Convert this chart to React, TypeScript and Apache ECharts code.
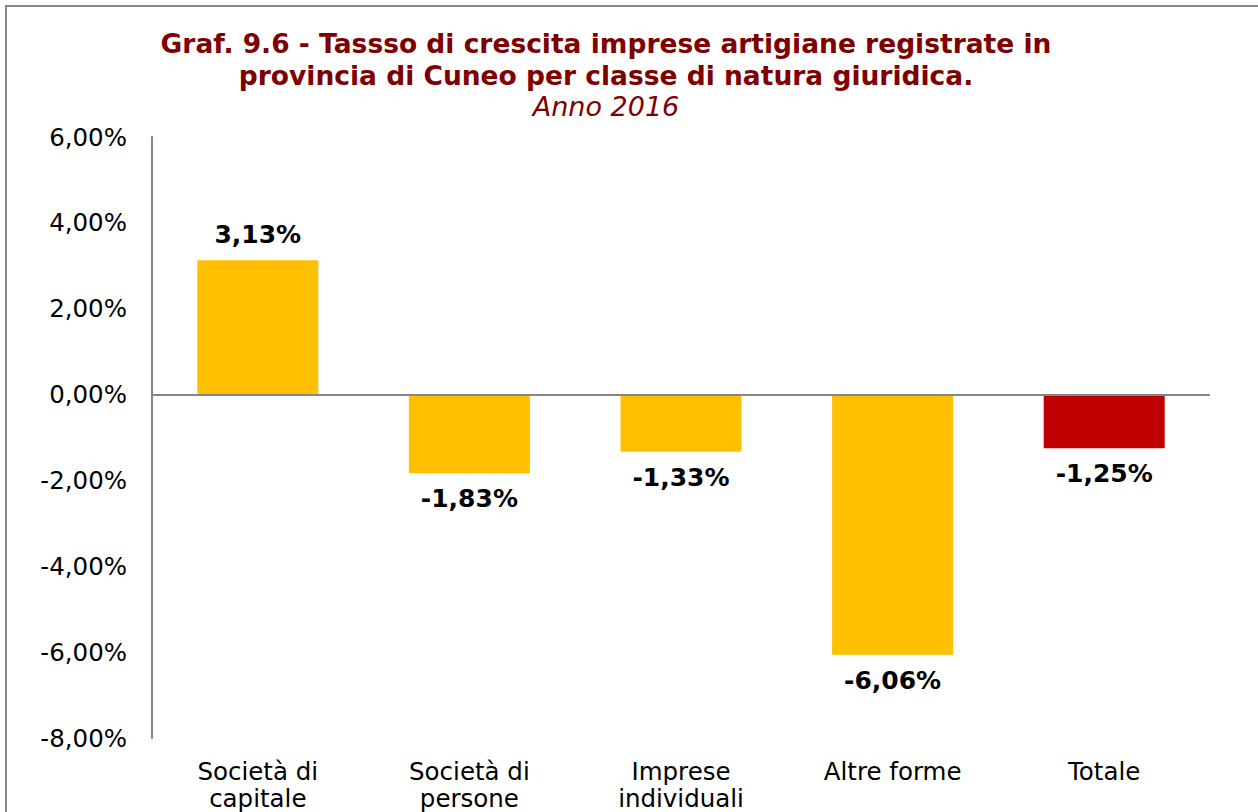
import React, { useEffect, useRef } from "react";
import * as echarts from "echarts";

const categories = ["Società di\ncapitale", "Società di\npersone", "Imprese\nindividuali", "Altre forme", "Totale"];
const values = [3.13, -1.83, -1.33, -6.06, -1.25];
const barColors = ["#FFC000", "#FFC000", "#FFC000", "#FFC000", "#C00000"];
const titleLines = [
  "Graf. 9.6 - Tassso di crescita imprese artigiane registrate in",
  "provincia di Cuneo per classe di natura giuridica.",
];
const subtitle = "Anno 2016";

const fmt = (v: number) => v.toFixed(2).replace(".", ",") + "%";

export default function App() {
  const ref = useRef<HTMLDivElement>(null);
  useEffect(() => {
    document.body.style.margin = "0";
    const chart = echarts.init(ref.current!, null, { renderer: "svg" });
    const font = "'DejaVu Sans', Verdana, sans-serif";
    chart.setOption({
      animation: false,
      backgroundColor: "#fff",
      textStyle: { fontFamily: font },
      graphic: [
        {
          type: "rect",
          shape: { x: 6, y: 6, width: 1400, height: 1000 },
          style: { fill: "none", stroke: "#868686", lineWidth: 2 },
          silent: true,
        },
        {
          type: "text",
          x: 606,
          y: 43,
          style: {
            text: titleLines[0],
            fill: "#7F0000",
            font: `bold 26.5px ${font}`,
            textAlign: "center",
            textVerticalAlign: "middle",
          },
        },
        {
          type: "text",
          x: 606,
          y: 75,
          style: {
            text: titleLines[1],
            fill: "#7F0000",
            font: `bold 26.5px ${font}`,
            textAlign: "center",
            textVerticalAlign: "middle",
          },
        },
        {
          type: "text",
          x: 606,
          y: 106,
          style: {
            text: subtitle,
            fill: "#7F0000",
            font: `italic 27px ${font}`,
            textAlign: "center",
            textVerticalAlign: "middle",
          },
        },
      ],
      grid: { left: 152, right: 48, top: 137, bottom: 74, containLabel: false },
      xAxis: {
        type: "category",
        data: categories,
        axisLine: { show: false, onZero: false },
        axisTick: { show: false },
        axisLabel: {
          color: "#000",
          fontSize: 24.5,
          lineHeight: 27,
          margin: 20,
          interval: 0,
          fontFamily: font,
        },
      },
      yAxis: {
        type: "value",
        min: -8,
        max: 6,
        interval: 2,
        axisLine: { show: true, lineStyle: { color: "#868686", width: 2 } },
        axisTick: { show: false },
        splitLine: { show: false },
        axisLabel: {
          color: "#000",
          fontSize: 24.5,
          margin: 25,
          fontFamily: font,
          formatter: (v: number) => fmt(v),
        },
      },
      series: [
        {
          type: "bar",
          barWidth: 121,
          data: values.map((v, i) => ({ value: v, itemStyle: { color: barColors[i] } })),
          label: {
            show: true,
            position: "outside",
            distance: 13,
            color: "#000",
            fontWeight: "bold",
            fontSize: 25,
            fontFamily: font,
            formatter: (p: any) => fmt(p.value),
          },
          markLine: {
            silent: true,
            symbol: "none",
            label: { show: false },
            lineStyle: { color: "#868686", width: 2, type: "solid" },
            data: [{ yAxis: 0 }],
          },
        },
      ],
    });
    return () => chart.dispose();
  }, []);
  return <div ref={ref} style={{ width: 1258, height: 812 }} />;
}
